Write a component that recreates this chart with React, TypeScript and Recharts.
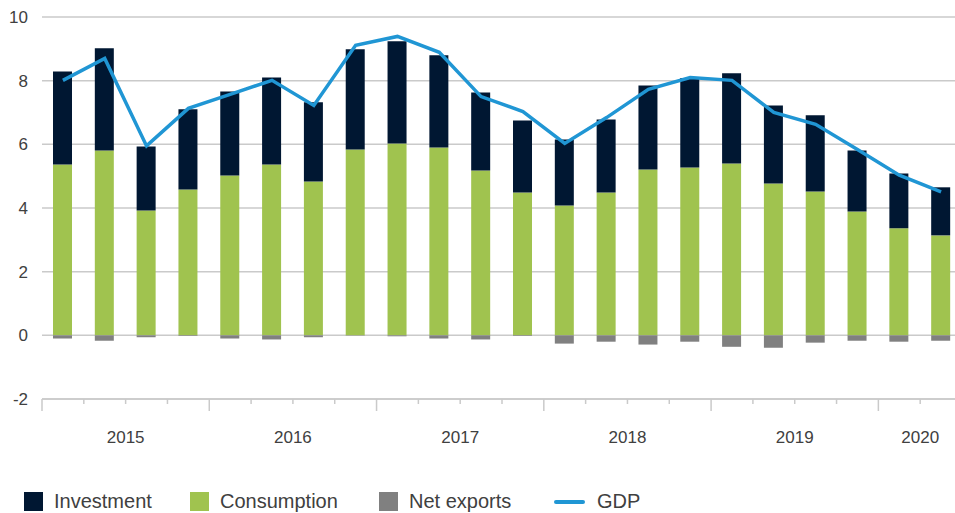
import React from "react";
import {
  ComposedChart,
  Bar,
  Line,
  XAxis,
  YAxis,
  CartesianGrid,
} from "recharts";

const quarters = [
  "2015 Q1", "2015 Q2", "2015 Q3", "2015 Q4",
  "2016 Q1", "2016 Q2", "2016 Q3", "2016 Q4",
  "2017 Q1", "2017 Q2", "2017 Q3", "2017 Q4",
  "2018 Q1", "2018 Q2", "2018 Q3", "2018 Q4",
  "2019 Q1", "2019 Q2", "2019 Q3", "2019 Q4",
  "2020 Q1", "2020 Q2",
];

const consumption = [
  5.37, 5.81, 3.92, 4.58, 5.02, 5.37, 4.83, 5.84, 6.03, 5.9, 5.18,
  4.49, 4.08, 4.49, 5.21, 5.27, 5.4, 4.77, 4.52, 3.89, 3.36, 3.14,
];

const investment = [
  2.92, 3.21, 2.01, 2.52, 2.64, 2.73, 2.49, 3.15, 3.21, 2.9, 2.45,
  2.26, 2.07, 2.29, 2.64, 2.81, 2.83, 2.45, 2.39, 1.92, 1.72, 1.51,
];

const netExports = [
  -0.1, -0.17, -0.06, -0.02, -0.1, -0.13, -0.06, -0.01, -0.03, -0.1, -0.13,
  -0.02, -0.26, -0.2, -0.29, -0.2, -0.36, -0.39, -0.23, -0.17, -0.2, -0.17,
];

const gdp = [
  8.01, 8.7, 5.95, 7.13, 7.57, 8.01, 7.22, 9.11, 9.39, 8.89, 7.5,
  7.03, 6.03, 6.84, 7.73, 8.1, 8.01, 7.0, 6.63, 5.84, 5.03, 4.51,
];

const yTicks = [-2, 0, 2, 4, 6, 8, 10];

const data = quarters.map((q, i) => ({
  q,
  consumption: consumption[i],
  investment: investment[i],
  netExports: netExports[i],
  gdp: gdp[i],
}));

const CHART_W = 962;
const CHART_H = 513;
const Y_AXIS_W = 42;
const BAND = (CHART_W - Y_AXIS_W) / quarters.length;
const FONT = "'Liberation Sans', Arial, sans-serif";
const TEXT = "#404040";
const GRID = "#cacaca";

const COLORS = {
  investment: "#001732",
  consumption: "#a0c34f",
  netExports: "#808080",
  gdp: "#2096d4",
};

const QuarterTick = (props: any) => {
  const { x, y, payload } = props;
  const label: string = payload.value;
  const [year, qt] = label.split(" ");
  const isFirst = qt === "Q1";
  const left = x - BAND / 2;
  const count = quarters.filter((q) => q.startsWith(year)).length;
  return (
    <g>
      <line
        x1={left}
        x2={left}
        y1={y}
        y2={y + (isFirst ? 12 : 5)}
        stroke={GRID}
        strokeWidth={1.5}
      />
      {isFirst && (
        <text
          x={left + (count * BAND) / 2}
          y={y + 44}
          textAnchor="middle"
          fill={TEXT}
          fontSize={17}
          fontFamily={FONT}
        >
          {year}
        </text>
      )}
    </g>
  );
};

const legendItems = [
  { name: "Investment", color: COLORS.investment, type: "square", left: 24 },
  { name: "Consumption", color: COLORS.consumption, type: "square", left: 190 },
  { name: "Net exports", color: COLORS.netExports, type: "square", left: 379 },
  { name: "GDP", color: COLORS.gdp, type: "line", left: 554 },
];

const ChartLegend = () => (
  <div style={{ position: "absolute", left: 0, top: 490, width: 955, height: 23 }}>
    {legendItems.map((item) => (
      <div
        key={item.name}
        style={{
          position: "absolute",
          left: item.left,
          top: 0,
          display: "flex",
          alignItems: "center",
          height: 23,
        }}
      >
        {item.type === "square" ? (
          <div style={{ width: 19, height: 19, background: item.color, marginRight: 11 }} />
        ) : (
          <div
            style={{
              width: 31,
              height: 4,
              borderRadius: 2,
              background: item.color,
              marginRight: 12,
            }}
          />
        )}
        <span style={{ fontFamily: FONT, fontSize: 20, color: TEXT, whiteSpace: "nowrap" }}>
          {item.name}
        </span>
      </div>
    ))}
  </div>
);

export default function App() {
  return (
    <div
      style={{
        position: "absolute",
        left: 0,
        top: 0,
        width: 955,
        height: 513,
        overflow: "hidden",
        background: "#fff",
      }}
    >
      <ComposedChart
        width={CHART_W}
        height={CHART_H}
        data={data}
        stackOffset="sign"
        margin={{ top: 17, right: 0, left: 0, bottom: 64 }}
      >
        <CartesianGrid vertical={false} stroke={GRID} strokeWidth={1.5} />
        <XAxis
          dataKey="q"
          interval={0}
          height={50}
          tickLine={false}
          tickSize={0}
          tickMargin={0}
          axisLine={{ stroke: GRID, strokeWidth: 1.5 }}
          tick={<QuarterTick />}
        />
        <YAxis
          width={Y_AXIS_W}
          domain={[-2, 10]}
          ticks={yTicks}
          interval={0}
          axisLine={false}
          tickLine={false}
          tickSize={6}
          tickMargin={8}
          tick={{ fill: TEXT, fontSize: 17, fontFamily: FONT }}
        />
        <Bar
          dataKey="consumption"
          name="Consumption"
          stackId="a"
          fill={COLORS.consumption}
          barSize={19}
          isAnimationActive={false}
        />
        <Bar
          dataKey="investment"
          name="Investment"
          stackId="a"
          fill={COLORS.investment}
          barSize={19}
          isAnimationActive={false}
        />
        <Bar
          dataKey="netExports"
          name="Net exports"
          stackId="a"
          fill={COLORS.netExports}
          barSize={19}
          isAnimationActive={false}
        />
        <Line
          dataKey="gdp"
          name="GDP"
          type="linear"
          stroke={COLORS.gdp}
          strokeWidth={3.5}
          dot={false}
          activeDot={false}
          isAnimationActive={false}
        />
      </ComposedChart>
      <ChartLegend />
    </div>
  );
}
